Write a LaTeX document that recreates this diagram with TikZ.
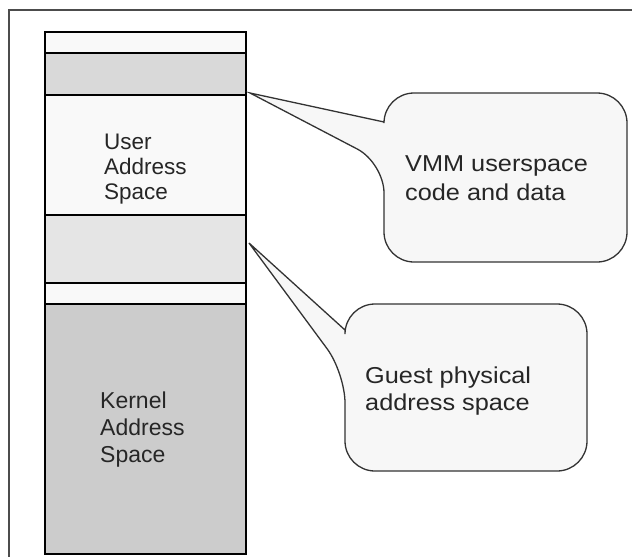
\documentclass[tikz,border=0pt]{standalone}
\usepackage{graphicx}
\usepackage{fontspec}
\setmainfont{Liberation Sans}
\newcommand{\widetext}[1]{\scalebox{1.1}[1]{\begin{tabular}[b]{@{}l@{}}#1\end{tabular}}}
\begin{document}
\begin{tikzpicture}[x=1pt,y=-1pt,
  memtext/.style={anchor=base west,align=left,inner sep=0pt,text=black!85,font=\fontsize{22.5}{25}\selectfont},
  notetext/.style={anchor=base west,inner sep=0pt,text=black!85},
  balloon/.style={draw=black!80,line width=1.3pt,fill=gray!6}]
  \useasboundingbox (0,0) rectangle (632,557);
  % frame
  \draw[line width=1.5pt,black!70] (9,557) -- (9,10) -- (632,10);
  % address space column
  \fill[gray!5] (45,32) rectangle (246,554);
  \fill[gray!30] (45,53) rectangle (246,95);
  \fill[gray!20] (45,215) rectangle (246,283);
  \fill[gray!40] (45,304) rectangle (246,554);
  \draw[line width=1.5pt] (45,32) rectangle (246,554);
  \foreach \y in {53,95,215,283,304}
    \draw[line width=1.5pt] (45,\y) -- (246,\y);
  \node[memtext] (user) at (104,199) {User\\Address\\Space};
  \node[memtext,font=\fontsize{23}{27}\selectfont] (kernel) at (100,462) {Kernel\\Address\\Space};
  % callouts
  \coordinate (vmmtip) at (250,93);
  \coordinate (guesttip) at (249,243);
  \draw[balloon] (384,122) [rounded corners=30pt] -- (384,93) -- (627,93) -- (627,262) -- (384,262) -- (384,163) [sharp corners] -- (vmmtip) -- cycle;
  \draw[balloon] (345,330) [rounded corners=30pt] -- (345,304) -- (587,304) -- (587,471) -- (345,471) -- (345,373) [sharp corners] -- (guesttip) -- cycle;
  \node[notetext,font=\fontsize{23}{29}\selectfont] (vmm) at (405,200) {\widetext{VMM userspace\\code and data}};
  \node[notetext,font=\fontsize{23}{27}\selectfont] (guest) at (365,410) {\widetext{Guest physical\\address space}};
\end{tikzpicture}
\end{document}
